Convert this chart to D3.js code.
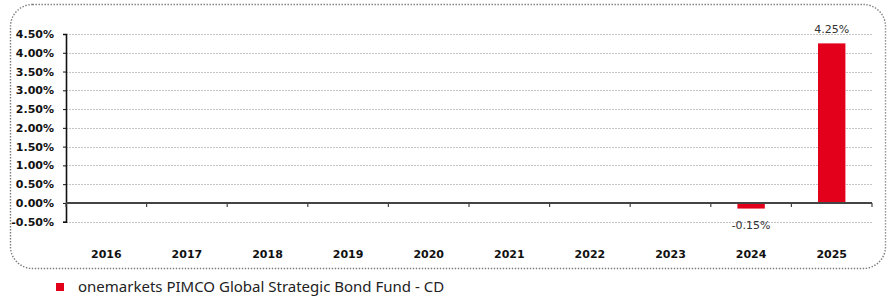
<!DOCTYPE html>
<html>
<head>
<meta charset="utf-8">
<script src="https://cdn.jsdelivr.net/npm/d3@7"></script>
<style>
  body { margin: 0; background: #fff; }
  svg { display: block; }
</style>
</head>
<body>
<div id="chart"></div>
<script>
  var years = ['2016', '2017', '2018', '2019', '2020', '2021', '2022', '2023', '2024', '2025'];
  var returns = [null, null, null, null, null, null, null, null, -0.15, 4.25];
  var yTicks = [-0.5, 0, 0.5, 1, 1.5, 2, 2.5, 3, 3.5, 4, 4.5];
  var seriesName = 'onemarkets PIMCO Global Strategic Bond Fund - CD';

  var W = 891, H = 297,
      margin = { top: 34, right: 19, bottom: 75, left: 66 },
      width = W - margin.left - margin.right,
      height = H - margin.top - margin.bottom;

  function translate(x, y) { return 'translate(' + x + ',' + y + ')'; }

  // plain hyphen for negatives, as in the source chart
  function pct(d) { return d3.format('.2f')(d).replace('\u2212', '-') + '%'; }

  var data = years.map(function(y, i) { return { year: y, value: returns[i] }; });

  var x = d3.scaleBand().domain(years).range([0, width]).paddingInner(0.66).paddingOuter(0.33),
      xb = d3.scaleBand().domain(years).range([0, width]),
      y = d3.scaleLinear().domain([-0.5, 4.5]).range([221.7 - margin.top, 0]);

  var svg = d3.select('#chart').append('svg')
      .attr('width', W).attr('height', H);

  // dotted rounded frame
  svg.append('rect')
    .attr('x', 10.5).attr('y', 4.5)
    .attr('width', 875).attr('height', 264)
    .attr('rx', 22).attr('ry', 22)
    .attr('fill', 'none')
    .attr('stroke', '#7a7a7a')
    .attr('stroke-width', 1.4)
    .attr('stroke-dasharray', '1.4,1.6');

  var g = svg.append('g').attr('transform', translate(margin.left, margin.top));

  // gridlines
  g.append('g').selectAll('line')
    .data(yTicks.filter(function(d) { return d !== 0; }))
    .enter().append('line')
      .attr('x1', 0).attr('x2', width)
      .attr('y1', function(d) { return Math.round(y(d)) + 0.5; })
      .attr('y2', function(d) { return Math.round(y(d)) + 0.5; })
      .attr('stroke', '#c4c4c4')
      .attr('stroke-dasharray', '2,1');

  // y axis
  var yAxis = d3.axisLeft(y)
      .tickValues(yTicks)
      .tickSize(3)
      .tickFormat(pct);

  var ya = g.append('g').attr('class', 'y axis').call(yAxis);
  ya.select('.domain').attr('stroke', '#111').attr('stroke-width', 1.6);
  ya.selectAll('.tick line').attr('stroke', '#111');
  ya.selectAll('.tick text')
    .attr('x', -12)
    .attr('font-family', 'DejaVu Sans, sans-serif')
    .attr('font-size', 11).attr('font-weight', 'bold')
    .attr('fill', '#111');

  // bars
  g.append('g').selectAll('rect')
    .data(data.filter(function(d) { return d.value !== null; }))
    .enter().append('rect')
      .attr('x', function(d) { return x(d.year); })
      .attr('width', x.bandwidth())
      .attr('y', function(d) { return y(Math.max(0, d.value)); })
      .attr('height', function(d) { return Math.abs(y(d.value) - y(0)); })
      .attr('fill', '#e2001a');

  // zero line with category ticks
  var zero = g.append('g').attr('transform', translate(0, y(0)));
  zero.append('line')
    .attr('x1', 0).attr('x2', width)
    .attr('stroke', '#444').attr('stroke-width', 2);
  zero.selectAll('.ztick')
    .data(years.concat(['end']))
    .enter().append('line')
      .attr('class', 'ztick')
      .attr('x1', function(d, i) { return i * xb.bandwidth(); })
      .attr('x2', function(d, i) { return i * xb.bandwidth(); })
      .attr('y1', 0).attr('y2', 4)
      .attr('stroke', '#444').attr('stroke-width', 1.2);

  // value labels
  g.append('g').selectAll('text')
    .data(data.filter(function(d) { return d.value !== null; }))
    .enter().append('text')
      .attr('x', function(d) { return x(d.year) + x.bandwidth() / 2; })
      .attr('y', function(d) { return d.value >= 0 ? y(d.value) - 10 : y(d.value) + 20; })
      .attr('text-anchor', 'middle')
      .attr('font-family', 'DejaVu Sans, sans-serif')
      .attr('font-size', 11)
      .attr('fill', '#333')
      .text(function(d) { return pct(d.value); });

  // category labels
  g.append('g').selectAll('text')
    .data(years)
    .enter().append('text')
      .attr('x', function(d) { return xb(d) + xb.bandwidth() / 2; })
      .attr('y', 258 - margin.top)
      .attr('text-anchor', 'middle')
      .attr('font-family', 'DejaVu Sans, sans-serif')
      .attr('font-size', 11).attr('font-weight', 'bold')
      .attr('fill', '#111')
      .text(function(d) { return d; });

  // legend
  var legend = svg.append('g').attr('transform', translate(56, 283));
  legend.append('rect')
    .attr('width', 8).attr('height', 8)
    .attr('fill', '#e2001a');
  legend.append('text')
    .attr('x', 22).attr('y', 9)
    .attr('font-family', 'Noto Sans, sans-serif')
    .attr('font-size', 15)
    .attr('fill', '#222')
    .text(seriesName);
</script>
</body>
</html>
